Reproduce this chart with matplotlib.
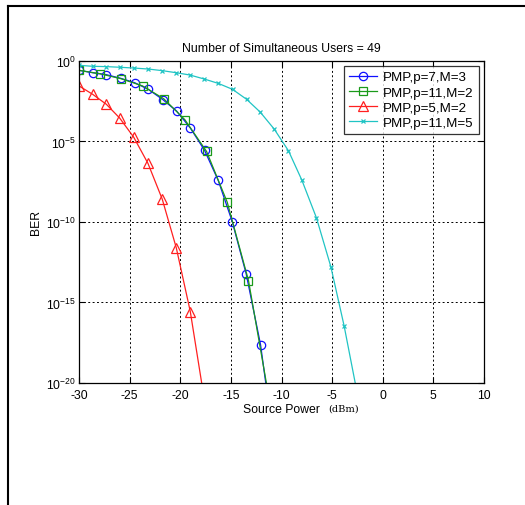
import matplotlib
matplotlib.use('Agg')
import matplotlib.pyplot as plt
from matplotlib.lines import Line2D
import numpy as np

plt.rcParams['font.family'] = ['Liberation Sans', 'DejaVu Sans']
plt.rcParams['mathtext.default'] = 'regular'

# source power (dBm) and log10(BER)
x_blue = [-30, -28.65, -27.3, -25.86, -24.5, -23.16, -21.72, -20.36, -19.0, -17.6,
          -16.25, -14.87, -13.49, -12.07, -10.69]
y_blue = [-0.58, -0.73, -0.85, -1.08, -1.35, -1.76, -2.4, -3.11, -4.17, -5.55,
          -7.42, -9.97, -13.22, -17.62, -24.0]

x_green = [-30, -27.96, -25.86, -23.72, -21.64, -19.54, -17.4, -15.36, -13.26, -11.16]
y_green = [-0.58, -0.79, -1.10, -1.55, -2.34, -3.65, -5.62, -8.77, -13.64, -21.2]

x_red = [-30, -28.65, -27.3, -25.99, -24.6, -23.19, -21.78, -20.39, -19.01, -17.63]
y_red = [-1.55, -2.07, -2.69, -3.54, -4.73, -6.36, -8.58, -11.61, -15.56, -21.0]

x_cyan = [-30, -28.65, -27.3, -25.95, -24.54, -23.16, -21.78, -20.39, -19.05, -17.63,
          -16.25, -14.84, -13.45, -12.11, -10.72, -9.31, -7.99, -6.55, -5.13, -3.82, -2.44]
y_cyan = [-0.27, -0.33, -0.35, -0.39, -0.44, -0.50, -0.60, -0.73, -0.87, -1.12,
          -1.39, -1.76, -2.38, -3.17, -4.23, -5.58, -7.40, -9.74, -12.77, -16.44, -20.9]

labels = ['PMP,p=7,M=3', 'PMP,p=11,M=2', 'PMP,p=5,M=2', 'PMP,p=11,M=5']
x_ticks = [-30, -25, -20, -15, -10, -5, 0, 5, 10]
y_exps = [0, -5, -10, -15, -20]

fig = plt.figure(figsize=(5.25, 5.06), dpi=100)
ax = fig.add_axes([0.1505, 0.2411, 0.7714, 0.6364])

ax.semilogy(x_blue, 10.0 ** np.array(y_blue), '-o', color='#1010ff', lw=0.9,
            ms=6, mfc='none', mew=0.9, label=labels[0])
ax.semilogy(x_green, 10.0 ** np.array(y_green), '-s', color='#1a9a1a', lw=0.9,
            ms=6, mfc='none', mew=0.9, label=labels[1])
ax.semilogy(x_red, 10.0 ** np.array(y_red), '-^', color='#ff2020', lw=0.9,
            ms=6.5, mfc='none', mew=0.9, label=labels[2])
ax.semilogy(x_cyan, 10.0 ** np.array(y_cyan), '-x', color='#20c4c4', lw=0.9,
            ms=3.5, mew=0.9, label=labels[3])

ax.set_xlim(-30, 10)
ax.set_ylim(1e-20, 1e0)
ax.set_xticks(x_ticks)
ax.set_xticklabels([str(t) for t in x_ticks])
ax.set_yticks([10.0 ** e for e in y_exps])
ax.set_yticklabels([r'$10^{%d}$' % e for e in y_exps])
ax.minorticks_off()
ax.tick_params(direction='in', top=True, right=True, length=4, width=0.8,
               labelsize=8.8, colors='black')
ax.tick_params(axis='x', pad=4)
ax.tick_params(axis='y', pad=2)
ax.grid(True, color='black', linestyle=(0, (2, 2.5)), linewidth=0.7)
for s in ax.spines.values():
    s.set_linewidth(0.9)

ax.set_title('Number of Simultaneous Users = 49', fontsize=8.8, pad=7)
ax.set_ylabel('BER', fontsize=8.8, labelpad=3)
ax.set_xlabel('Source Power', fontsize=8.8, labelpad=2)
fig.text(0.625, 0.192, '(dBm)', family='DejaVu Serif', fontsize=7, ha='left', va='center')

leg = ax.legend(loc='upper right', fontsize=9.6, frameon=True, fancybox=False,
                edgecolor='black', borderaxespad=0.4, handlelength=2.1,
                handletextpad=0.5, labelspacing=0.22, borderpad=0.35)
leg.get_frame().set_linewidth(0.9)

# outer frame of the page
fig.add_artist(Line2D([0.015, 0.015], [0.0, 0.986], color='black', lw=1.5))
fig.add_artist(Line2D([0.015, 1.0], [0.986, 0.986], color='black', lw=1.5))

fig.savefig('out.png', dpi=100)
